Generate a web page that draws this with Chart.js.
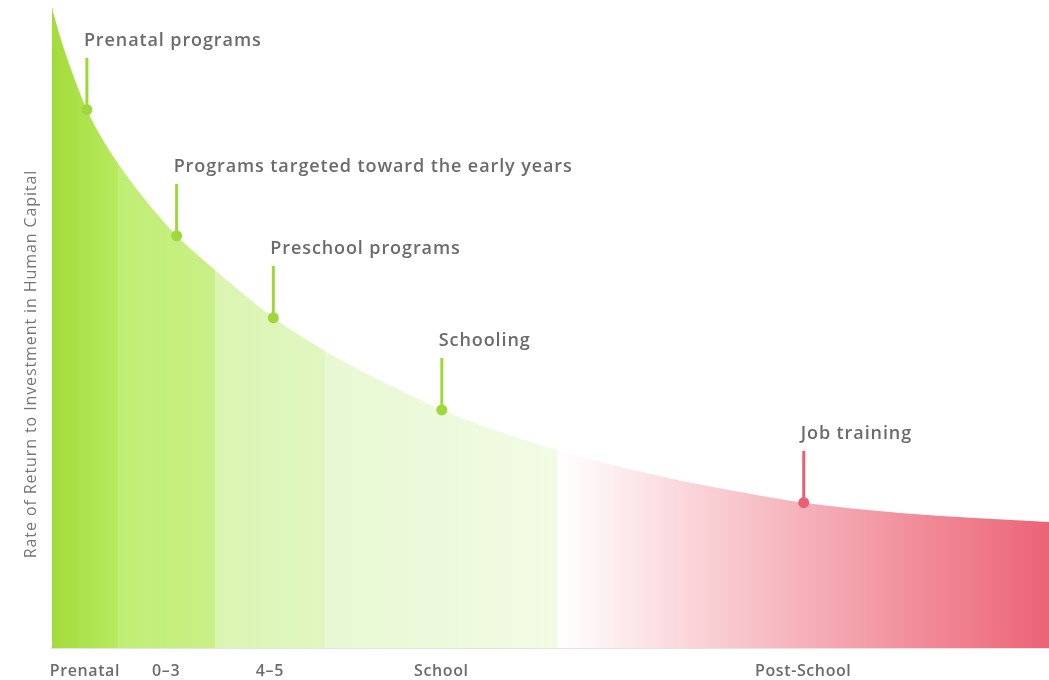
<!DOCTYPE html>
<html><head><meta charset="utf-8">
<script src="https://cdn.jsdelivr.net/npm/chart.js@4.4.1/dist/chart.umd.min.js"></script>
<style>html,body{margin:0;padding:0;background:#fff;overflow:hidden}#wrap{width:1049px;height:680px;position:relative}</style>
</head><body><div id="wrap"><canvas id="c"></canvas></div>
<script>
// ---- data ----
const curveX = [0, 0.8, 1.8, 2.8, 3.5, 4.8, 6.8, 8.8, 10.8, 12.5, 16.3, 22.2, 25.6, 29.9, 34.9, 39.1, 44.9, 50.7, 60.0, 70.0, 75.4, 85.1, 100];
const curveY = [100, 95.6, 90.9, 86.7, 84.1, 80.2, 75.3, 71.1, 67.3, 64.4, 59.1, 51.6, 48.1, 44.2, 40.3, 37.2, 33.8, 30.9, 27.2, 24.1, 22.7, 21.1, 19.7];
const stageLabels = ['Prenatal', '0–3', '4–5', 'School', 'Post-School'];
const stageBounds = [0, 6.6, 16.3, 27.4, 50.7, 100];
const noteLabels = ['Prenatal programs', 'Programs targeted toward the early years', 'Preschool programs', 'Schooling', 'Job training'];
const noteX = [3.5, 12.5, 22.2, 39.1, 75.4];
const noteY = [84.1, 64.4, 51.6, 37.2, 22.7];
const yTitle = 'Rate of Return to Investment in Human Capital';

// ---- styles ----
const stageColors = [['#a3db3a', '#b7ea5e'], ['#c0ee74', '#c9ef86'], ['#daf5b1', '#e1f6c1'], ['#e8f8d3', '#f2fbe4'], ['#ffffff', '#ec6375']];
const GREEN = '#9fd83a', RED = '#ea5f72', TEXT = '#6b6b6b';
const FONT = '"Open Sans"';

function areaFill(context) {
  const chart = context.chart, ca = chart.chartArea;
  if (!ca) return null;
  const xs = chart.scales.x, w = ca.right - ca.left;
  const g = chart.ctx.createLinearGradient(ca.left, 0, ca.right, 0);
  const pos = v => Math.min(1, Math.max(0, (xs.getPixelForValue(v) - ca.left) / w));
  stageColors.forEach((pair, i) => {
    g.addColorStop(pos(stageBounds[i]), pair[0]);
    g.addColorStop(pos(stageBounds[i + 1]), pair[1]);
  });
  return g;
}

const notePlugin = {
  id: 'notes',
  beforeDraw(chart) {
    chart.ctx.letterSpacing = '0.6px';
  },
  beforeDatasetsDraw(chart) {
    const { ctx, scales: { x, y } } = chart;
    ctx.save();
    noteLabels.forEach((t, i) => {
      const px = x.getPixelForValue(noteX[i]), py = y.getPixelForValue(noteY[i]);
      ctx.strokeStyle = i === 4 ? RED : GREEN;
      ctx.lineWidth = 3;
      ctx.beginPath(); ctx.moveTo(px, py); ctx.lineTo(px, py - 52); ctx.stroke();
    });
    ctx.restore();
  },
  afterDraw(chart) {
    const { ctx, scales: { x, y } } = chart;
    ctx.save();
    ctx.fillStyle = TEXT;
    ctx.font = `600 18px ${FONT}`;
    ctx.letterSpacing = '0.9px';
    ctx.textAlign = 'left'; ctx.textBaseline = 'alphabetic';
    noteLabels.forEach((t, i) => {
      const px = x.getPixelForValue(noteX[i]), py = y.getPixelForValue(noteY[i]);
      ctx.fillText(t, px - 3, py - 52 - 12);
    });
    ctx.translate(31, 364); ctx.rotate(-Math.PI / 2);
    ctx.textAlign = 'center'; ctx.textBaseline = 'middle';
    ctx.fillStyle = '#777';
    ctx.font = `500 16px ${FONT}`;
    ctx.fillText(yTitle, 0, 0);
    ctx.restore();
  }
};

new Chart(document.getElementById('c'), {
  data: {
    datasets: [
      {
        type: 'scatter', order: 0,
        data: noteX.map((v, i) => ({ x: v, y: noteY[i] })),
        pointRadius: 5.5, pointHoverRadius: 5.5, borderWidth: 0,
        pointBackgroundColor: noteX.map((v, i) => i === 4 ? RED : GREEN)
      },
      {
        type: 'line', order: 1,
        data: curveX.map((v, i) => ({ x: v, y: curveY[i] })),
        borderWidth: 0, pointRadius: 0, fill: 'origin',
        cubicInterpolationMode: 'monotone',
        backgroundColor: areaFill
      }
    ]
  },
  options: {
    responsive: true, maintainAspectRatio: false, animation: false,
    layout: { autoPadding: false, padding: { left: 52, top: 8, right: 0, bottom: 0 } },
    plugins: { legend: { display: false }, tooltip: { enabled: false } },
    scales: {
      x: {
        type: 'linear', min: 0, max: 100,
        grid: { display: false, drawTicks: false },
        border: { display: true, color: '#e3e3e3', width: 2 },
        afterBuildTicks: s => { s.ticks = stageLabels.map((l, i) => ({ value: (stageBounds[i] + stageBounds[i + 1]) / 2 })); },
        afterFit: s => { s.height = 32; s.paddingRight = 0; s.paddingLeft = 0; },
        ticks: { autoSkip: false, maxRotation: 0, padding: 14, color: TEXT, font: { family: 'Open Sans', size: 16, weight: '600' },
          callback: (v, i) => stageLabels[i] }
      },
      y: {
        min: 0, max: 100,
        grid: { display: false, drawTicks: false },
        border: { display: true, color: '#dddddd', width: 1 },
        ticks: { display: false }
      }
    }
  },
  plugins: [notePlugin]
});
</script>
</body></html>
